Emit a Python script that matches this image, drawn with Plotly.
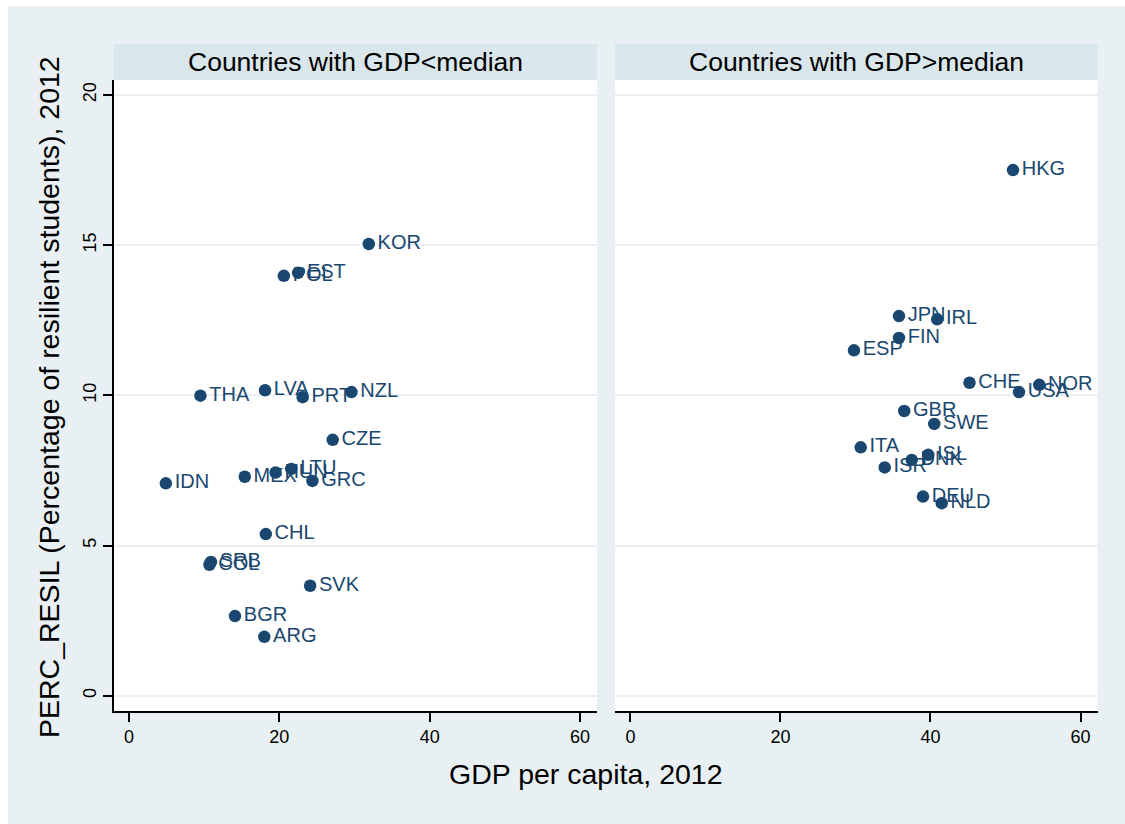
import plotly.graph_objects as go

# Countries with GDP per capita below the median
countries_low = ["KOR", "EST", "POL", "LVA", "THA", "PRT", "NZL", "CZE", "IDN", "MEX",
                 "HUN", "LTU", "GRC", "CHL", "SRB", "COL", "SVK", "BGR", "ARG"]
gdp_low = [31.9, 22.5, 20.6, 18.1, 9.5, 23.1, 29.6, 27.1, 4.9, 15.4,
           19.5, 21.6, 24.4, 18.2, 10.9, 10.7, 24.1, 14.1, 18.0]
resil_low = [15.04, 14.08, 13.98, 10.17, 9.99, 9.94, 10.11, 8.52, 7.07, 7.29,
             7.43, 7.55, 7.15, 5.38, 4.45, 4.36, 3.66, 2.65, 1.96]

# Countries with GDP per capita above the median
countries_high = ["HKG", "JPN", "IRL", "FIN", "ESP", "CHE", "NOR", "USA", "GBR", "SWE",
                  "ITA", "ISL", "DNK", "ISR", "DEU", "NLD"]
gdp_high = [51.0, 35.8, 40.9, 35.8, 29.8, 45.2, 54.5, 51.8, 36.5, 40.5,
            30.7, 39.7, 37.5, 33.9, 39.0, 41.5]
resil_high = [17.50, 12.64, 12.53, 11.91, 11.50, 10.42, 10.35, 10.11, 9.48, 9.05,
              8.27, 8.02, 7.85, 7.60, 6.63, 6.41]

panel_titles = ["Countries with GDP<median", "Countries with GDP>median"]
x_ticks = [0, 20, 40, 60]
y_ticks = [0, 5, 10, 15, 20]

W, H = 1125, 824
NAVY = "#1a476f"
BG = "#e8f0f3"
STRIP = "#d9e6eb"
GRID = "#e8f0f3"
FONT = "Liberation Sans, Arial, Helvetica, sans-serif"


def fx(px):
    return px / W


def fy(py):
    return 1 - py / H


fig = go.Figure()

for xs, ys, labels, xa, ya in [
    (gdp_low, resil_low, countries_low, "x", "y"),
    (gdp_high, resil_high, countries_high, "x2", "y2"),
]:
    fig.add_trace(go.Scatter(
        x=xs, y=ys, text=labels, mode="markers+text",
        textposition="middle right",
        textfont=dict(family=FONT, size=20, color=NAVY),
        marker=dict(color=NAVY, size=12.5, line=dict(width=0)),
        xaxis=xa, yaxis=ya, showlegend=False, hoverinfo="skip",
    ))

x_left = [fx(113.6), fx(597)]
x_right = [fx(615), fx(1097.5)]
y_dom = [fy(711), fy(80)]

xaxis_common = dict(
    range=[-2.05, 62.26], tickvals=x_ticks, ticks="outside", ticklen=9,
    tickwidth=1.5, tickcolor="black", showline=True, linecolor="black",
    linewidth=1.5, showgrid=False, zeroline=False,
    tickfont=dict(family=FONT, size=18, color="black"),
)
yaxis_common = dict(
    range=[-0.51, 20.5], tickvals=y_ticks, showgrid=True, gridcolor=GRID,
    gridwidth=2, zeroline=False,
)

fig.update_layout(
    width=W, height=H,
    margin=dict(l=0, r=0, t=0, b=0),
    paper_bgcolor=BG, plot_bgcolor="white",
    xaxis=dict(domain=x_left, anchor="y", **xaxis_common),
    xaxis2=dict(domain=x_right, anchor="y2", **xaxis_common),
    yaxis=dict(domain=y_dom, anchor="x", ticks="outside", ticklen=9,
               tickwidth=1.5, tickcolor="black", showline=True,
               linecolor="black", linewidth=1.5, tickangle=-90,
               tickfont=dict(family=FONT, size=18, color="black"),
               **yaxis_common),
    yaxis2=dict(domain=y_dom, anchor="x2", matches="y", showticklabels=False,
                ticks="", showline=False, **yaxis_common),
)

shapes = [
    # white border along the top and left edges
    dict(type="rect", xref="paper", yref="paper", x0=0, x1=1, y0=fy(6), y1=1,
         fillcolor="white", line=dict(width=0), layer="below"),
    dict(type="rect", xref="paper", yref="paper", x0=0, x1=fx(8), y0=0, y1=1,
         fillcolor="white", line=dict(width=0), layer="below"),
]
annotations = []
for dom, title in zip([x_left, x_right], panel_titles):
    shapes.append(dict(type="rect", xref="paper", yref="paper",
                       x0=dom[0], x1=dom[1], y0=fy(80), y1=fy(44),
                       fillcolor=STRIP, line=dict(width=0), layer="below"))
    annotations.append(dict(text=title, xref="paper", yref="paper",
                            x=(dom[0] + dom[1]) / 2, y=fy(62),
                            xanchor="center", yanchor="middle", showarrow=False,
                            font=dict(family=FONT, size=26.5, color="black")))

annotations.append(dict(text="PERC_RESIL (Percentage of resilient students), 2012",
                        xref="paper", yref="paper", x=fx(49), y=fy(397),
                        xanchor="center", yanchor="middle", textangle=-90,
                        showarrow=False,
                        font=dict(family=FONT, size=28.5, color="black")))
annotations.append(dict(text="GDP per capita, 2012", xref="paper", yref="paper",
                        x=fx(586), y=fy(774), xanchor="center", yanchor="middle",
                        showarrow=False,
                        font=dict(family=FONT, size=28.5, color="black")))

fig.update_layout(shapes=shapes, annotations=annotations)
fig.write_html("out.html")
